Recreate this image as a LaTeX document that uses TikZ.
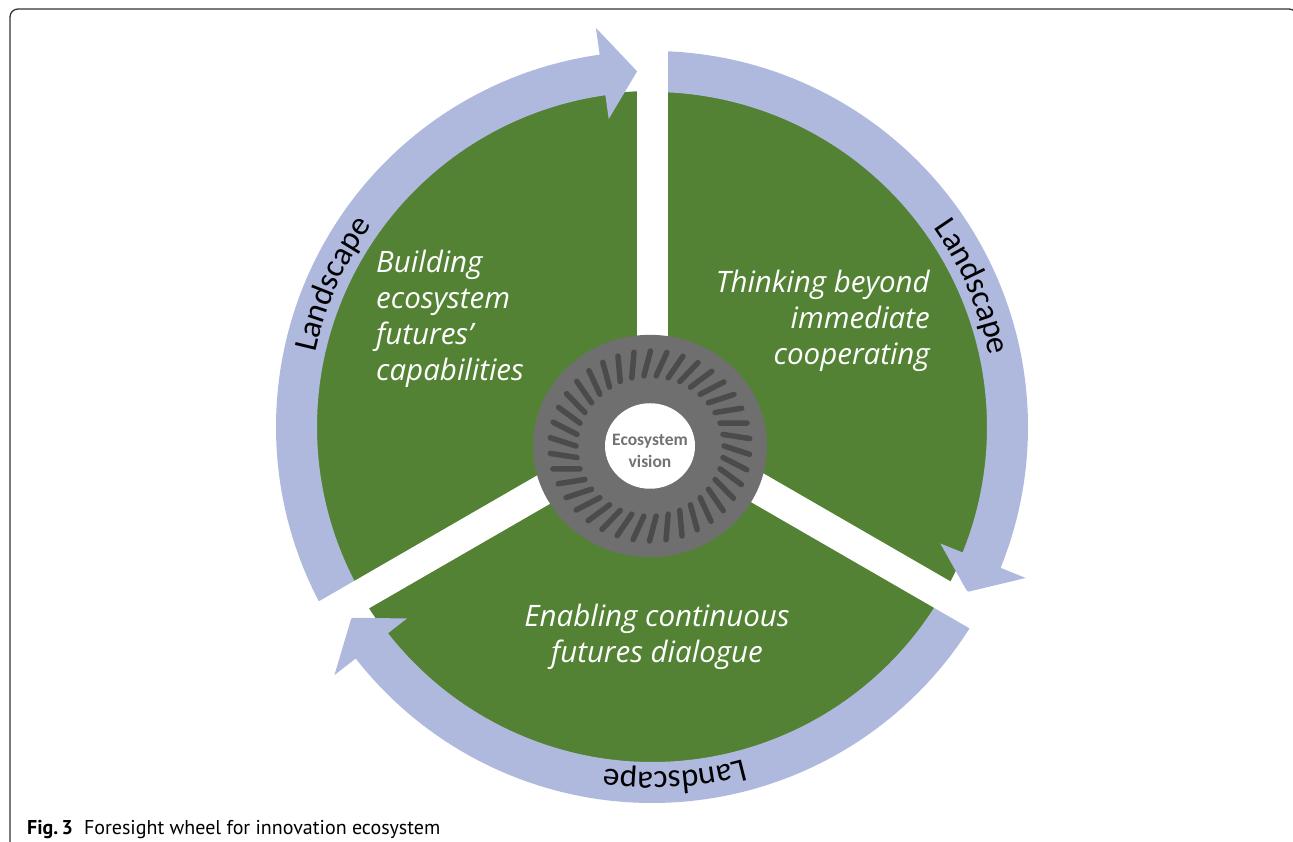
\documentclass[tikz,border=0pt]{standalone}
\usepackage{fontspec}
\usetikzlibrary{decorations.text}

\newfontfamily\segfont{Open Sans}
\newfontfamily\calfont{Carlito}
\newfontfamily\capfont{PT Sans}
\newcommand\lsfont{\calfont\fontsize{33}{33}\selectfont}

\definecolor{wheelgreen}{HTML}{548235}
\definecolor{ringblue}{HTML}{AFB9DE}
\definecolor{hubgray}{HTML}{6F6F6F}
\definecolor{hubdash}{HTML}{4B4B4B}
\definecolor{visiongray}{HTML}{727272}

\tikzset{
  phase/.style={text=white, inner sep=0pt, font=\segfont\itshape\fontsize{29.5}{36}\selectfont},
  landtext/.style={decorate, decoration={text along path, text align=center, text={|\lsfont|Landscape}}},
}

\begin{document}
\begin{tikzpicture}[x=1pt, y=1pt]
\useasboundingbox (0,0) rectangle (1293,841);

% page frame
\draw[line width=1.3pt, draw=black!80, rounded corners=8pt] (10,-10) -- (10,832) -- (1297,832) -- (1297,-10);

\begin{scope}[shift={(652,414)}]
  % green wheel
  \fill[wheelgreen] (0,0) circle[radius=336];
  % three clockwise arrows around the rim
  \foreach \s in {210,90,-30} {
    \pgfmathsetmacro\e{\s-112}
    \pgfmathsetmacro\t{\s-117.6}
    \fill[ringblue] (\s:376) arc[start angle=\s, end angle=\e, radius=376]
      -- (\e:403) -- (\t:356) -- (\e:311) -- (\e:335)
      arc[start angle=\e, end angle=\s, radius=335] -- cycle;
  }
  % white spokes separating the sectors
  \foreach \a in {90,210,330}
    \fill[white, rotate=\a] (0,-15.5) rectangle (390,15.5);
  % rim labels
  \path[landtext] (185.9:345) arc[start angle=185.9, end angle=125.9, radius=345];
  \path[landtext] (53.6:345) arc[start angle=53.6, end angle=-6.4, radius=345];
  \path[landtext] (-56.3:345) arc[start angle=-56.3, end angle=-116.3, radius=345];
\end{scope}

% hub
\begin{scope}[shift={(650,395)}, yscale=0.95]
  \fill[hubgray] (0,0) circle[radius=117];
  \foreach \i in {0,...,37}
    \draw[hubdash, line width=5.5pt, line cap=round] (\i*360/38:74) -- (\i*360/38-5:100);
  \fill[white] (0,0) circle[radius=45];
\end{scope}
\node[text=visiongray, align=center, inner sep=0pt, font=\calfont\bfseries\fontsize{17.5}{22}\selectfont] (vision) at (650,390) {Ecosystem\\vision};

% sector texts
\node[phase, anchor=west, align=left] (build) at (376,522) {Building\\ecosystem\\futures’\\capabilities};
\node[phase, anchor=east, align=right] (think) at (930,520) {Thinking beyond\\immediate\\cooperating};
\node[phase, align=center] (enable) at (657,204.5) {Enabling continuous\\futures dialogue};

% caption
\node[anchor=base west, inner sep=0pt, font=\capfont\fontsize{20}{22}\selectfont] (caption) at (27,7)
  {\textbf{Fig.\,3}\hspace{0.55em}Foresight wheel for innovation ecosystem};
\end{tikzpicture}
\end{document}
